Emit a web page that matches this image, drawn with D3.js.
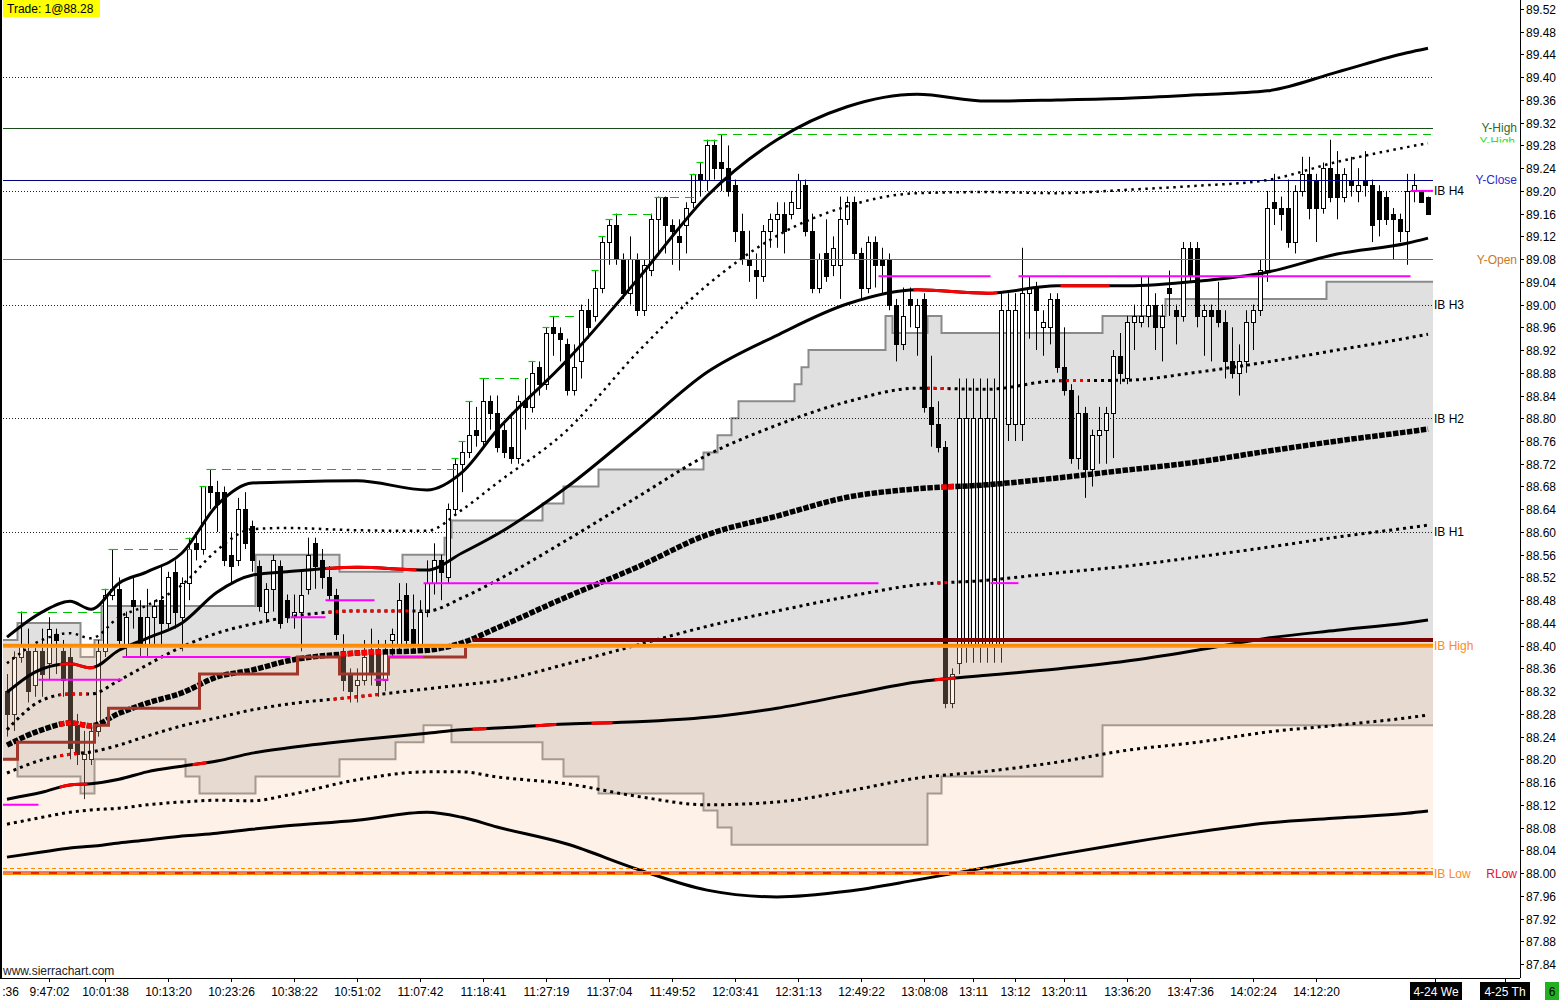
<!DOCTYPE html>
<html><head><meta charset="utf-8">
<script src="https://cdn.jsdelivr.net/npm/d3@7"></script>
<style>
body{margin:0;background:#fff}
svg{display:block}
text{font-family:"Liberation Sans",Arial,sans-serif;font-size:12px}
</style>
</head><body>
<svg id="c" width="1562" height="1000"></svg>
<script>
// ---------------- DATA ----------------
// candles: [open, high, low, close] per bar (bar index 0..203)
const candles = [
[88.32,88.35,88.24,88.28],[88.28,88.39,88.25,88.38],[88.38,88.46,88.37,88.40],[88.39,88.43,88.30,88.32],
[88.33,88.40,88.31,88.39],[88.39,88.43,88.31,88.35],[88.37,88.45,88.34,88.43],[88.42,88.43,88.35,88.41],
[88.39,88.41,88.31,88.34],[88.38,88.40,88.20,88.22],[88.26,88.28,88.19,88.21],[88.20,88.25,88.13,88.21],
[88.20,88.26,88.19,88.25],[88.25,88.41,88.24,88.39],[88.39,88.50,88.38,88.49],[88.49,88.57,88.48,88.50],
[88.50,88.52,88.40,88.41],[88.40,88.46,88.38,88.45],[88.48,88.52,88.43,88.47],[88.45,88.48,88.38,88.40],
[88.40,88.50,88.38,88.45],[88.45,88.48,88.40,88.47],[88.48,88.54,88.40,88.44],[88.44,88.53,88.43,88.52],
[88.53,88.55,88.43,88.46],[88.45,88.52,88.39,88.51],[88.51,88.59,88.48,88.57],[88.58,88.60,88.55,88.57],
[88.57,88.68,88.56,88.68],[88.68,88.71,88.64,88.67],[88.67,88.69,88.60,88.65],[88.67,88.68,88.54,88.55],
[88.56,88.60,88.51,88.54],[88.55,88.66,88.54,88.64],[88.64,88.67,88.57,88.58],[88.61,88.62,88.53,88.55],
[88.54,88.55,88.46,88.47],[88.46,88.51,88.44,88.50],[88.50,88.56,88.46,88.55],[88.54,88.55,88.43,88.44],
[88.48,88.49,88.44,88.45],[88.45,88.49,88.43,88.46],[88.46,88.53,88.39,88.49],[88.50,88.59,88.49,88.56],
[88.58,88.59,88.50,88.54],[88.55,88.57,88.50,88.52],[88.52,88.54,88.48,88.49],[88.49,88.50,88.41,88.42],
[88.39,88.42,88.32,88.34],[88.35,88.36,88.30,88.32],[88.33,88.36,88.30,88.34],[88.34,88.41,88.33,88.38],
[88.39,88.43,88.33,88.35],[88.39,88.41,88.31,88.33],[88.34,88.41,88.32,88.39],[88.41,88.43,88.38,88.42],
[88.40,88.51,88.39,88.48],[88.49,88.51,88.40,88.41],[88.43,88.49,88.39,88.40],[88.40,88.48,88.39,88.46],
[88.46,88.55,88.45,88.51],[88.51,88.58,88.49,88.55],[88.55,88.56,88.48,88.53],[88.52,88.65,88.51,88.64],
[88.64,88.73,88.63,88.72],[88.72,88.76,88.67,88.74],[88.74,88.83,88.73,88.77],[88.78,88.82,88.75,88.77],
[88.76,88.87,88.75,88.83],[88.83,88.84,88.78,88.81],[88.81,88.84,88.74,88.75],[88.78,88.79,88.73,88.74],
[88.75,88.81,88.72,88.73],[88.73,88.84,88.72,88.83],[88.83,88.87,88.78,88.82],[88.82,88.90,88.81,88.88],
[88.89,88.90,88.84,88.86],[88.86,88.96,88.85,88.95],[88.96,88.98,88.91,88.95],[88.95,88.96,88.90,88.94],
[88.93,88.94,88.84,88.85],[88.85,88.93,88.84,88.89],[88.90,89.00,88.87,88.99],[88.99,89.01,88.94,88.96],
[88.98,89.06,88.97,89.03],[89.03,89.12,89.02,89.11],[89.11,89.15,89.07,89.14],[89.14,89.16,89.07,89.08],
[89.08,89.09,89.01,89.02],[89.02,89.12,89.00,89.08],[89.08,89.09,88.98,88.99],[88.99,89.08,88.98,89.07],
[89.06,89.16,89.05,89.15],[89.15,89.19,89.09,89.19],[89.19,89.19,89.09,89.14],[89.14,89.15,89.07,89.13],
[89.12,89.15,89.06,89.11],[89.14,89.18,89.09,89.17],[89.18,89.23,89.17,89.23],[89.23,89.25,89.19,89.22],
[89.22,89.29,89.20,89.28],[89.28,89.29,89.22,89.24],[89.25,89.30,89.20,89.24],[89.24,89.28,89.19,89.20],
[89.21,89.22,89.11,89.13],[89.13,89.16,89.07,89.08],[89.08,89.13,89.04,89.07],[89.06,89.09,89.01,89.05],
[89.05,89.14,89.04,89.13],[89.13,89.16,89.10,89.15],[89.15,89.18,89.10,89.16],[89.16,89.18,89.09,89.13],
[89.16,89.20,89.15,89.18],[89.17,89.23,89.17,89.22],[89.21,89.22,89.12,89.13],[89.13,89.16,89.02,89.03],
[89.03,89.09,89.02,89.08],[89.09,89.15,89.04,89.05],[89.07,89.12,89.05,89.10],[89.07,89.19,89.01,89.15],
[89.15,89.19,89.14,89.18],[89.18,89.19,89.08,89.09],[89.09,89.10,89.01,89.03],[89.03,89.12,89.02,89.11],
[89.11,89.12,89.03,89.07],[89.08,89.10,89.02,89.07],[89.08,89.09,88.99,89.00],[89.00,89.01,88.90,88.93],
[88.93,89.03,88.92,88.98],[89.01,89.03,88.96,89.00],[88.96,89.01,88.91,89.00],[89.01,89.02,88.81,88.82],
[88.82,88.91,88.75,88.79],[88.79,88.83,88.74,88.75],[88.75,88.76,88.29,88.30],[88.30,88.36,88.29,88.35],
[88.37,88.87,88.35,88.80],[88.40,88.87,88.37,88.80],[88.40,88.87,88.37,88.80],[88.40,88.87,88.37,88.80],
[88.40,88.87,88.37,88.80],[88.40,88.87,88.37,88.80],[88.40,89.02,88.37,88.99],[88.79,89.02,88.76,88.99],
[88.79,89.02,88.76,88.99],[88.79,89.10,88.76,89.02],[89.02,89.05,88.94,89.03],[89.03,89.04,88.92,88.99],
[88.96,88.99,88.91,88.97],[88.96,89.02,88.93,89.01],[89.01,89.02,88.88,88.89],[88.89,88.96,88.84,88.85],
[88.85,88.86,88.72,88.73],[88.73,88.84,88.71,88.81],[88.81,88.82,88.66,88.71],[88.71,88.78,88.68,88.77],
[88.77,88.82,88.72,88.78],[88.78,88.82,88.72,88.81],[88.81,88.92,88.73,88.91],[88.91,88.95,88.86,88.88],
[88.87,88.98,88.86,88.97],[88.97,89.00,88.92,88.98],[88.97,89.05,88.96,88.98],[88.98,89.05,88.96,89.00],
[89.00,89.02,88.92,88.96],[88.96,89.00,88.90,88.98],[89.03,89.06,88.98,89.02],[88.99,89.00,88.93,88.98],
[88.98,89.11,88.97,89.10],[89.10,89.11,89.04,89.05],[89.10,89.11,88.96,88.98],[88.98,89.00,88.91,88.99],
[88.99,89.00,88.90,88.98],[88.99,89.04,88.96,88.97],[88.97,88.99,88.87,88.90],[88.90,88.96,88.87,88.88],
[88.88,88.93,88.84,88.90],[88.90,88.99,88.88,88.97],[88.97,89.00,88.92,88.99],[88.99,89.08,88.98,89.06],
[89.06,89.20,89.04,89.17],[89.18,89.23,89.14,89.17],[89.17,89.19,89.13,89.16],[89.17,89.22,89.10,89.11],
[89.11,89.21,89.09,89.20],[89.20,89.26,89.19,89.23],[89.23,89.26,89.15,89.17],[89.22,89.23,89.11,89.17],
[89.17,89.25,89.16,89.24],[89.24,89.29,89.18,89.19],[89.23,89.27,89.15,89.19],[89.19,89.24,89.18,89.23],
[89.22,89.26,89.19,89.21],[89.20,89.24,89.18,89.21],[89.22,89.27,89.19,89.21],[89.21,89.22,89.11,89.14],
[89.20,89.21,89.12,89.15],[89.19,89.20,89.14,89.15],[89.16,89.17,89.08,89.15],[89.15,89.16,89.11,89.13],
[89.13,89.23,89.07,89.20],[89.20,89.23,89.18,89.21],[89.20,89.20,89.18,89.18],[89.19,89.19,89.16,89.16]
];

// band study values sampled at these bar indices
const bandBars = [0,5,9,12,16,20,25,30,35,40,50,60,65,70,80,90,100,110,120,130,140,150,160,170,180,190,200,203];
const bandTop3  = [88.415,88.459,88.478,88.464,88.510,88.530,88.563,88.647,88.686,88.688,88.690,88.674,88.705,88.779,88.902,89.043,89.191,89.290,89.348,89.370,89.358,89.360,89.363,89.369,89.376,89.409,89.443,89.451];
const bandTop2  = [88.369,88.410,88.422,88.413,88.450,88.471,88.507,88.568,88.605,88.607,88.603,88.602,88.639,88.686,88.779,88.915,89.034,89.121,89.173,89.196,89.198,89.196,89.202,89.209,89.219,89.251,89.277,89.284];
const bandTop1  = [88.318,88.359,88.368,88.361,88.392,88.413,88.440,88.494,88.524,88.530,88.538,88.533,88.563,88.596,88.679,88.779,88.881,88.946,89.001,89.026,89.020,89.033,89.033,89.041,89.057,89.089,89.108,89.117];
const bandTop05 = [88.252,88.304,88.315,88.315,88.339,88.366,88.398,88.422,88.438,88.450,88.461,88.461,88.484,88.515,88.586,88.661,88.735,88.788,88.829,88.853,88.851,88.866,88.867,88.881,88.899,88.920,88.941,88.948];
const vwapLine  = [88.225,88.252,88.264,88.259,88.281,88.299,88.317,88.345,88.357,88.373,88.387,88.392,88.405,88.431,88.486,88.538,88.595,88.628,88.661,88.676,88.683,88.695,88.709,88.723,88.742,88.760,88.776,88.781];
const bandBot05 = [88.176,88.199,88.209,88.213,88.225,88.241,88.259,88.273,88.287,88.297,88.310,88.324,88.331,88.338,88.368,88.401,88.434,88.461,88.486,88.507,88.515,88.528,88.540,88.556,88.573,88.591,88.607,88.612];
const bandBot1  = [88.130,88.142,88.155,88.157,88.165,88.178,88.188,88.197,88.211,88.220,88.234,88.246,88.252,88.255,88.262,88.266,88.274,88.290,88.313,88.336,88.348,88.359,88.373,88.392,88.413,88.427,88.440,88.445];
const bandBot2  = [88.086,88.098,88.107,88.111,88.114,88.120,88.125,88.128,88.127,88.137,88.164,88.178,88.178,88.169,88.157,88.135,88.120,88.125,88.144,88.167,88.179,88.195,88.216,88.230,88.248,88.260,88.273,88.278];
const bandBot3  = [88.028,88.037,88.044,88.047,88.053,88.058,88.065,88.070,88.077,88.083,88.093,88.107,88.098,88.081,88.051,88.007,87.970,87.958,87.968,87.988,88.010,88.032,88.053,88.072,88.088,88.097,88.105,88.109];

// bar ranges where each band line is drawn red
const redTop1  = [[8,12],[46,58],[130,141],[151,157]];
const redTop05 = [[8,11],[46,57],[132,134],[151,154]];
const redVwap  = [[8,12],[48,53],[134,135]];
const redBot05 = [[8,10],[47,53],[133,134]];
const redBot1  = [[8,11],[27,28],[67,68],[76,78],[84,86],[133,135]];

// developing value area: [start bar, price]
const vaHigh = [[0,88.41],[2,88.44],[11,88.38],[13,88.41],[14,88.47],[36,88.56],[48,88.53],[57,88.56],[63,88.59],[64,88.62],[77,88.65],[80,88.68],[85,88.71],[100,88.74],[102,88.77],[104,88.80],[105,88.83],[113,88.86],[114,88.89],[115,88.92],[126,88.98],[127,88.95],[132,88.98],[134,88.95],[157,88.98],[166,89.01],[189,89.04]];
const vaLow  = [[0,88.20],[2,88.17],[11,88.14],[13,88.20],[26,88.17],[28,88.14],[36,88.17],[48,88.20],[56,88.23],[60,88.26],[64,88.23],[77,88.20],[80,88.17],[85,88.14],[100,88.11],[102,88.08],[104,88.05],[132,88.14],[134,88.17],[157,88.26]];
// developing POC step (brown) and final level
const pocSteps = [[0,88.20],[2,88.23],[13,88.26],[15,88.29],[28,88.35],[42,88.38],[48,88.35],[55,88.38],[66,88.40]];
const pocFinal = {from:66, price:88.41};

// magenta segments: [from bar, to bar, price]
const pinkSegs = [[0,4,88.12],[5,16,88.34],[17,40,88.38],[41,45,88.45],[46,52,88.48],[53,54,88.34],[55,59,88.38],[60,124,88.51],[125,140,89.05],[141,144,88.51],[145,200,89.05],[201,203,89.20]];
// new high markers: [from bar, to bar, price]
const highMarks = [[2,13,88.46],[15,26,88.57],[29,64,88.71],[68,74,88.87],[78,81,88.98],[87,92,89.16],[93,98,89.19],[102,203,89.30]];
const newHighBars = [2,14,15,26,28,29,64,65,66,68,75,77,78,84,85,86,87,93,98,99,100,101,102];

// horizontal levels
const ibHigh = 88.40, ibLow = 88.00;
const ibExt = [[89.40,""],[89.20,"IB H4"],[89.00,"IB H3"],[88.80,"IB H2"],[88.60,"IB H1"]];
const yHigh = 89.31, yClose = 89.22, yOpen = 89.08;

// axis labels
const priceTicks = [89.52,89.48,89.44,89.40,89.36,89.32,89.28,89.24,89.20,89.16,89.12,89.08,89.04,89.00,88.96,88.92,88.88,88.84,88.80,88.76,88.72,88.68,88.64,88.60,88.56,88.52,88.48,88.44,88.40,88.36,88.32,88.28,88.24,88.20,88.16,88.12,88.08,88.04,88.00,87.96,87.92,87.88,87.84];
const timeTicks = [[0.4,":36"],[6,"9:47:02"],[14,"10:01:38"],[23,"10:13:20"],[32,"10:23:26"],[41,"10:38:22"],[50,"10:51:02"],[59,"11:07:42"],[68,"11:18:41"],[77,"11:27:19"],[86,"11:37:04"],[95,"11:49:52"],[104,"12:03:41"],[113,"12:31:13"],[122,"12:49:22"],[131,"13:08:08"],[138,"13:11"],[144,"13:12"],[151,"13:20:11"],[160,"13:36:20"],[169,"13:47:36"],[178,"14:02:24"],[187,"14:12:20"]];
const tradeText = "Trade: 1@88.28";

// ---------------- DRAW ----------------
const svg = d3.select('#c');
const AX = 1520, AY = 978, X0 = 3, X1 = 1433;
const x = d3.scaleLinear().domain([0,203]).range([7,1428]);
const y = d3.scaleLinear().domain([87.84,89.52]).range([964,9]);
const lastBar = candles.length; // 204
const bx = k => k <= 0 ? X0 : (k >= lastBar ? X1 : x(k - 0.5));

const defs = svg.append('defs');
defs.append('clipPath').attr('id','pc').append('rect').attr('x',2).attr('y',0).attr('width',AX-2).attr('height',AY);
const g = svg.append('g').attr('clip-path','url(#pc)');

// value area fill
const stepAt = (steps,k) => { let v = steps[0][1]; for (const s of steps) if (s[0] <= k) v = s[1]; return v; };
const breaks = Array.from(new Set([...vaHigh.map(d=>d[0]), ...vaLow.map(d=>d[0]), lastBar])).sort((a,b)=>a-b);
const vaPts = breaks.map(k => ({k, hi: stepAt(vaHigh,k), lo: stepAt(vaLow,k)}));
g.append('path').datum(vaPts)
  .attr('d', d3.area().x(d=>bx(d.k)).y0(d=>y(d.lo)).y1(d=>y(d.hi)).curve(d3.curveStepAfter))
  .attr('fill','#e0e0e0');
function stepPath(steps, endK){
  const pts = steps.map(s=>[s[0],s[1]]); pts.push([endK, steps[steps.length-1][1]]);
  return d3.line().x(d=>bx(d[0])).y(d=>y(d[1])).curve(d3.curveStepAfter)(pts);
}
g.append('path').attr('d', stepPath(vaHigh,lastBar)).attr('fill','none').attr('stroke','#8a8a8a').attr('stroke-width',2);
g.append('path').attr('d', stepPath(vaLow,lastBar)).attr('fill','none').attr('stroke','#8a8a8a').attr('stroke-width',2);

// IB extension dotted lines
ibExt.forEach(([p,lab])=>{
  g.append('line').attr('x1',X0).attr('x2',X1).attr('y1',Math.round(y(p))+0.5).attr('y2',Math.round(y(p))+0.5)
   .attr('stroke','#222').attr('stroke-width',1).attr('stroke-dasharray','1,2');
  if (lab) svg.append('text').attr('x',X1+1).attr('y',y(p)+4.5).attr('fill','#000').text(lab);
});

// candles
const cg = g.append('g');
candles.forEach((c,i)=>{
  const [o,h,l,cl] = c;
  const cx = Math.round(x(i)) + 0.5;
  const up = cl >= o;
  cg.append('line').attr('x1',cx).attr('x2',cx).attr('y1',y(h)).attr('y2',y(l)).attr('stroke','#000').attr('stroke-width',1);
  const top = Math.round(y(Math.max(o,cl))) + 0.5, bot = Math.round(y(Math.min(o,cl))) + 0.5;
  cg.append('rect').attr('x',cx-2).attr('y',top).attr('width',4).attr('height',Math.max(1,bot-top))
    .attr('fill', up ? '#fff' : '#000').attr('stroke','#000').attr('stroke-width',1);
});

// IB range overlay (translucent)
g.append('rect').attr('x',X0).attr('width',X1-X0).attr('y',y(ibHigh)).attr('height',y(ibLow)-y(ibHigh))
  .attr('fill','rgb(247,198,162)').attr('fill-opacity',0.25);

// prior-day lines
const hline = (p,col,w,dash) => g.append('line').attr('x1',X0).attr('x2',X1).attr('y1',Math.round(y(p))+0.5).attr('y2',Math.round(y(p))+0.5)
   .attr('stroke',col).attr('stroke-width',w).attr('stroke-dasharray',dash||null);
hline(yHigh,'#1b4d1b',1);
hline(yClose,'#000080',1);
hline(yOpen,'#c06000',1);

// new high markers
highMarks.forEach(([a,b,p])=>{
  g.append('line').attr('x1',x(a)-3).attr('x2',x(b)+3).attr('y1',Math.round(y(p))+0.5).attr('y2',Math.round(y(p))+0.5)
    .attr('stroke','#00c000').attr('stroke-width',1).attr('stroke-dasharray','9,6');
});
newHighBars.forEach(i=>{
  const p = candles[i][1];
  g.append('line').attr('x1',x(i)-3.5).attr('x2',x(i)+3.5).attr('y1',Math.round(y(p))+0.5).attr('y2',Math.round(y(p))+0.5)
    .attr('stroke','#00d000').attr('stroke-width',1.2);
});

// band lines
const lineGen = d3.line().x((d,i)=>x(bandBars[i])).y(d=>y(d)).curve(d3.curveMonotoneX);
let clipId = 0;
function drawBand(vals, style, reds){
  const d = lineGen(vals);
  const st = {
    solid:{w:3,dash:null},
    dot:{w:3,dash:'3,4'},
    fine:{w:2.5,dash:'2.5,4.5'},
    square:{w:5.5,dash:'5.5,1.5'}
  }[style];
  g.append('path').attr('d',d).attr('fill','none').attr('stroke','#000').attr('stroke-width',st.w).attr('stroke-dasharray',st.dash);
  (reds||[]).forEach(([a,b])=>{
    const id = 'rc'+(clipId++);
    defs.append('clipPath').attr('id',id).append('rect').attr('x',x(a)-3.5).attr('width',x(b)-x(a)+7).attr('y',0).attr('height',AY);
    g.append('path').attr('d',d).attr('fill','none').attr('stroke','#ff0000').attr('stroke-width',st.w)
      .attr('stroke-dasharray',st.dash).attr('clip-path','url(#'+id+')');
  });
}
drawBand(bandTop3,'solid');
drawBand(bandTop2,'fine');
drawBand(bandTop1,'solid',redTop1);
drawBand(bandTop05,'dot',redTop05);
drawBand(vwapLine,'square',redVwap);
drawBand(bandBot05,'dot',redBot05);
drawBand(bandBot1,'solid',redBot1);
drawBand(bandBot2,'dot');
drawBand(bandBot3,'solid');

// developing POC step
const pocPts = pocSteps.map(s=>[s[0],s[1]]); pocPts.push([pocFinal.from+1, pocSteps[pocSteps.length-1][1]]);
g.append('path').attr('d', d3.line().x(d=>bx(d[0])).y(d=>y(d[1])).curve(d3.curveStepAfter)(pocPts))
  .attr('fill','none').attr('stroke','#a3362b').attr('stroke-width',3);
g.append('line').attr('x1',bx(pocFinal.from+1)).attr('x2',X1).attr('y1',y(pocFinal.price)).attr('y2',y(pocFinal.price))
  .attr('stroke','#7d0000').attr('stroke-width',4);

// IB high / low lines
g.append('line').attr('x1',X0).attr('x2',X1).attr('y1',y(ibHigh)).attr('y2',y(ibHigh)).attr('stroke','#ff8a00').attr('stroke-width',4);
g.append('line').attr('x1',X0).attr('x2',X1).attr('y1',y(ibHigh)+1.5).attr('y2',y(ibHigh)+1.5).attr('stroke','#ffa640').attr('stroke-width',1);
g.append('line').attr('x1',X0).attr('x2',X1).attr('y1',Math.round(y(ibLow))-4.5).attr('y2',Math.round(y(ibLow))-4.5)
  .attr('stroke','#ff8a00').attr('stroke-width',1).attr('stroke-dasharray','4,3');
g.append('line').attr('x1',X0).attr('x2',X1).attr('y1',y(ibLow)).attr('y2',y(ibLow)).attr('stroke','#ff8a00').attr('stroke-width',4);
g.append('line').attr('x1',X0).attr('x2',X1).attr('y1',y(ibLow)).attr('y2',y(ibLow)).attr('stroke','#e00000').attr('stroke-width',1.5);
g.append('line').attr('x1',X0).attr('x2',X1).attr('y1',y(ibLow)).attr('y2',y(ibLow)).attr('stroke','#fff').attr('stroke-width',0.8).attr('stroke-dasharray','10,8');

// magenta segments
pinkSegs.forEach(([a,b,p])=>{
  g.append('line').attr('x1',bx(a)).attr('x2',b>=203?X1:x(b)+3.5).attr('y1',y(p)).attr('y2',y(p))
    .attr('stroke','#ff00ff').attr('stroke-width',2);
});

// right-side level labels
svg.append('text').attr('x',X1+1).attr('y',y(ibHigh)+4.5).attr('fill','#ff8a1e').text('IB High');
svg.append('text').attr('x',X1+1).attr('y',y(ibLow)+4.5).attr('fill','#ff8a1e').text('IB Low');
svg.append('text').attr('x',1517).attr('y',y(ibLow)+4.5).attr('text-anchor','end').attr('fill','#e8103a').text('RLow');
// partly hidden green label of the session-high line, just below Y-High
defs.append('clipPath').attr('id','hiClip').append('rect').attr('x',1470).attr('y',y(yHigh)+8).attr('width',52).attr('height',6);
svg.append('text').attr('x',1515).attr('y',y(yHigh)+18).attr('text-anchor','end').attr('font-size',10)
  .attr('fill','#33dd33').attr('clip-path','url(#hiClip)').text('Y-High');
svg.append('text').attr('x',1517).attr('y',y(yHigh)+4).attr('text-anchor','end').attr('fill','#2f6a2f').text('Y-High');
svg.append('text').attr('x',1517).attr('y',y(yClose)+4.5).attr('text-anchor','end').attr('fill','#2a2ad0').text('Y-Close');
svg.append('text').attr('x',1517).attr('y',y(yOpen)+4.5).attr('text-anchor','end').attr('fill','#c8782a').text('Y-Open');

// axes
svg.append('line').attr('x1',1).attr('x2',1).attr('y1',0).attr('y2',AY).attr('stroke','#000').attr('stroke-width',2);
svg.append('line').attr('x1',AX+0.5).attr('x2',AX+0.5).attr('y1',0).attr('y2',AY).attr('stroke','#000');
svg.append('line').attr('x1',0).attr('x2',AX).attr('y1',AY+0.5).attr('y2',AY+0.5).attr('stroke','#000');
priceTicks.forEach(p=>{
  const yy = Math.round(y(p))+0.5;
  svg.append('line').attr('x1',AX).attr('x2',AX+4).attr('y1',yy).attr('y2',yy).attr('stroke','#000');
  svg.append('text').attr('x',AX+6).attr('y',yy+4.5).attr('fill','#000').text(p.toFixed(2));
});
timeTicks.forEach(([b,lab])=>{
  const xx = Math.round(x(b))+0.5;
  if (b >= 1) svg.append('line').attr('x1',xx).attr('x2',xx).attr('y1',AY).attr('y2',AY+4).attr('stroke','#000');
  svg.append('text').attr('x',xx).attr('y',996).attr('text-anchor','middle').attr('fill','#000').text(lab);
});
[[1435],[1505]].forEach(([xx])=>svg.append('line').attr('x1',xx+0.5).attr('x2',xx+0.5).attr('y1',AY).attr('y2',AY+4).attr('stroke','#000'));
// date boxes
svg.append('rect').attr('x',1410).attr('y',982).attr('width',52).attr('height',18).attr('fill','#000');
svg.append('text').attr('x',1436).attr('y',996).attr('text-anchor','middle').attr('fill','#fff').text('4-24 We');
svg.append('rect').attr('x',1480).attr('y',982).attr('width',50).attr('height',18).attr('fill','#000');
svg.append('text').attr('x',1505).attr('y',996).attr('text-anchor','middle').attr('fill','#fff').text('4-25 Th');
svg.append('rect').attr('x',1545).attr('y',982).attr('width',14).attr('height',18).attr('fill','#22b022');
svg.append('text').attr('x',1552).attr('y',996).attr('text-anchor','middle').attr('fill','#000').text('6');

// watermark & trade box
svg.append('text').attr('x',3).attr('y',975).attr('fill','#222').text('www.sierrachart.com');
svg.append('rect').attr('x',3).attr('y',0).attr('width',97).attr('height',17).attr('fill','#ffff00');
svg.append('text').attr('x',7).attr('y',13).attr('fill','#000').text(tradeText);
</script>
</body></html>
